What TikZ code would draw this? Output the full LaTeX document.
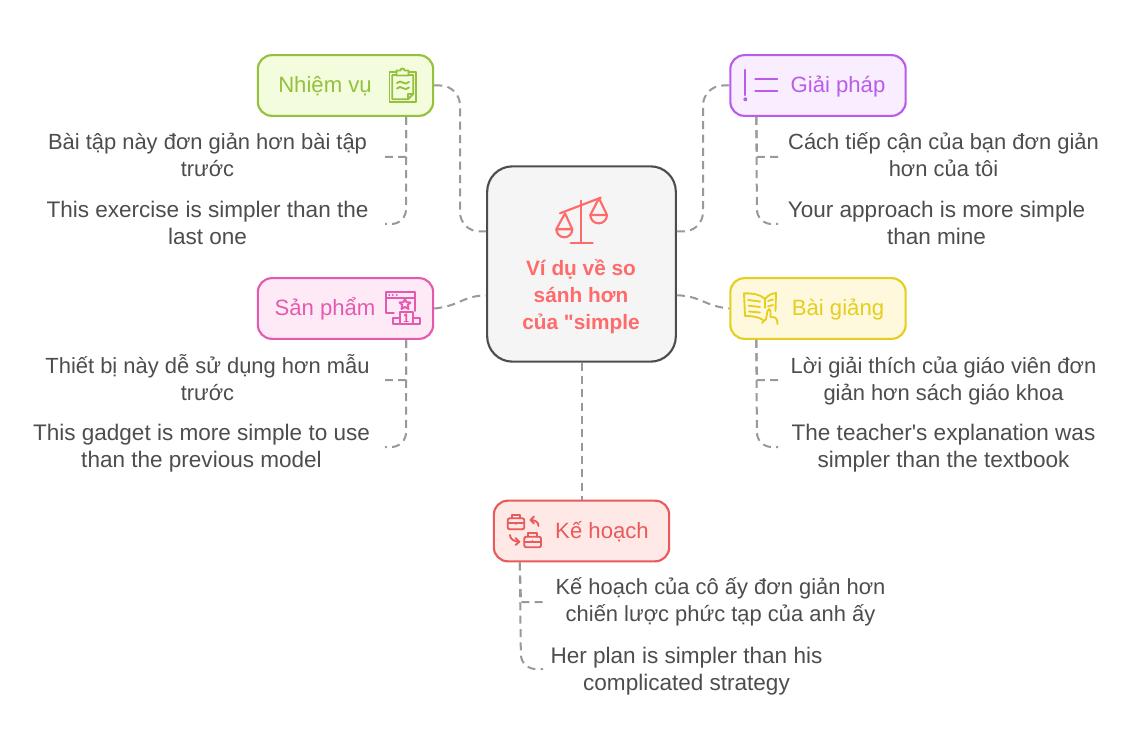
\documentclass[tikz,border=0pt]{standalone}
\usepackage{fontspec}
\newfontfamily\plainfont{Liberation Sans}
\usetikzlibrary{calc}
\definecolor{txt}{HTML}{4D4D4D}
\definecolor{cn}{HTML}{999999}
\definecolor{gs}{HTML}{93C13D}\definecolor{gf}{HTML}{F3FCDC}
\definecolor{ps}{HTML}{BB5CE8}\definecolor{pf}{HTML}{F9EEFF}
\definecolor{ms}{HTML}{E45AAE}\definecolor{mf}{HTML}{FEEAF6}
\definecolor{ys}{HTML}{E5CE1E}\definecolor{yf}{HTML}{FEF9DC}
\definecolor{rs}{HTML}{EA5A5A}\definecolor{rf}{HTML}{FFE9E7}
\definecolor{cs}{HTML}{FF6B6B}
\tikzset{
  x=0.75pt,y=-0.75pt,
  hub/.style={draw=txt,fill=black!4,line width=1.6pt,rounded corners=19pt,minimum width=141.5pt,minimum height=146.5pt,inner sep=0pt},
  topic/.style={line width=1.6pt,rounded corners=10.5pt,minimum width=131.5pt,minimum height=45.5pt,inner sep=0pt,text height=15pt,text depth=4pt,font=\plainfont\fontsize{16.6}{20.25}\selectfont},
  leaf/.style={align=center,anchor=base,text=txt,inner sep=0pt,font=\plainfont\fontsize{16.45}{20.25}\selectfont},
  leafen/.style={leaf,font=\plainfont\fontsize{16.9}{20.25}\selectfont},
  hubtitle/.style={align=center,anchor=base,text=cs,inner sep=0pt,font=\plainfont\fontsize{15.6}{20.25}\selectfont\bfseries},
  linkline/.style={draw=cn,line width=1.5pt,dash pattern=on 6pt off 4pt},
  bendline/.style={linkline,rounded corners=15pt},
  softline/.style={linkline,rounded corners=11pt},
  ico/.style={line width=1.4pt,line join=round,line cap=round},
}
\begin{document}
\begin{tikzpicture}
\useasboundingbox (0,0) rectangle (1137,752);
\fill[white] (0,0) rectangle (1137,752);

% nodes
\node[hub] (c) at (581.5,264) {};
\node[hubtitle] (ct) at (581,329) {Ví dụ về so\\sánh hơn\\của "simple};
\node[topic,draw=gs,fill=gf,text=gs] (nv) at (345.5,85.5) {Nhiệm vụ\hspace*{30.75pt}};
\node[topic,draw=ps,fill=pf,text=ps] (gp) at (818,85.5) {\hspace*{30pt}Giải pháp};
\node[topic,draw=ms,fill=mf,text=ms] (sp) at (345.5,308.5) {Sản phẩm\hspace*{30.75pt}};
\node[topic,draw=ys,fill=yf,text=ys] (bg) at (818,308.5) {\hspace*{30pt}Bài giảng};
\node[topic,draw=rs,fill=rf,text=rs] (kh) at (581.5,531) {\hspace*{30.75pt}Kế hoạch};

\node[leaf] (nv1) at (207.5,177) {Bài tập này đơn giản hơn bài tập\\trước};
\node[leafen] (nv2) at (207.5,244) {This exercise is simpler than the\\last one};
\node[leaf] (gp1) at (943.5,177) {Cách tiếp cận của bạn đơn giản\\hơn của tôi};
\node[leafen] (gp2) at (936.5,244) {Your approach is more simple\\than mine};
\node[leaf] (sp1) at (207.5,400) {Thiết bị này dễ sử dụng hơn mẫu\\trước};
\node[leafen] (sp2) at (201.5,467) {This gadget is more simple to use\\than the previous model};
\node[leaf] (bg1) at (943.5,400) {Lời giải thích của giáo viên đơn\\giản hơn sách giáo khoa};
\node[leafen] (bg2) at (943.5,467) {The teacher's explanation was\\simpler than the textbook};
\node[leaf] (kh1) at (720.5,621) {Kế hoạch của cô ấy đơn giản hơn\\chiến lược phức tạp của anh ấy};
\node[leafen] (kh2) at (686.5,690) {Her plan is simpler than his\\complicated strategy};

% free ends of connectors
\coordinate (cw1) at ($(c.north west)+(0,66)$);
\coordinate (cw2) at ($(c.north west)+(0,130)$);
\coordinate (ce1) at ($(c.north east)+(0,66)$);
\coordinate (ce2) at ($(c.north east)+(0,130)$);
\coordinate (nvs) at ($(nv.south east)+(-28,0)$);
\coordinate (sps) at ($(sp.south east)+(-28,0)$);
\coordinate (gps) at ($(gp.south west)+(27,0)$);
\coordinate (bgs) at ($(bg.south west)+(27,0)$);
\coordinate (khs) at ($(kh.south west)+(27,0)$);

% hub connectors
\draw[bendline] (nv.east) -- (460,85.5) -- (460,232) -- (cw1);
\draw[bendline] (gp.west) -- (703,85.5) -- (703,232) -- (ce1);
\draw[linkline] (sp.east) .. controls (460,306) and (462,296) .. (cw2);
\draw[linkline] (ce2) .. controls (701,296) and (704,306) .. (bg.west);
\draw[linkline] (c.south) -- (kh.north);

% leaf connectors
\coordinate (a1) at (385,157);\coordinate (a2) at (385,224);
\draw[linkline] (nvs) -- (406,157) -- (a1);
\draw[softline] (nvs) -- (406,224) -- (a2);
\coordinate (b1) at (778,157);\coordinate (b2) at (778,224);
\draw[linkline] (gps) -- (757,157) -- (b1);
\draw[softline] (gps) -- (757,224) -- (b2);
\coordinate (d1) at (385,380);\coordinate (d2) at (385,447);
\draw[linkline] (sps) -- (406,380) -- (d1);
\draw[softline] (sps) -- (406,447) -- (d2);
\coordinate (e1) at (778,380);\coordinate (e2) at (778,447);
\draw[linkline] (bgs) -- (757,380) -- (e1);
\draw[softline] (bgs) -- (757,447) -- (e2);
\coordinate (f1) at (543,602);\coordinate (f2) at (543,669);
\draw[linkline] (khs) -- (521,602) -- (f1);
\draw[softline] (khs) -- (521,669) -- (f2);

% scales icon
\begin{scope}[ico,draw=cs,line width=1.6pt]
\draw (560,213.3) -- (600.7,197.7);
\draw (581,200.7) -- (581,242.7);
\draw (570.7,242.7) -- (592.7,242.7);
\draw (556.3,229.3) -- (565,213.3) -- (572.3,229.3);
\draw (556.3,229.3) -- (572.3,229.3) arc[start angle=0,end angle=180,radius=8];
\draw (590.3,215) -- (599,198.3) -- (607,215);
\draw (590.3,215) -- (607,215) arc[start angle=0,end angle=180,radius=8.35];
\end{scope}

% clipboard icon
\begin{scope}[ico,draw=gs]
\draw (396.5,72) -- (389.5,72) -- (389.5,102.3) -- (416,102.3) -- (416,72) -- (408.5,72);
\draw (396.5,75) -- (392.3,75) -- (392.3,99.3) -- (408,99.3) -- (413.3,94) -- (413.3,75) -- (408.5,75);
\draw (408,99.3) -- (408,94) -- (413.3,94);
\draw (396.5,75.5) -- (396.5,70.5) -- (400.5,70.5) arc[start angle=180,end angle=360,radius=2] -- (408.5,70.5) -- (408.5,75.5) -- cycle;
\foreach \yy in {83,88.5}{
\draw (397,\yy) .. controls (399,\yy-2) and (401,\yy-2) .. (403,\yy-0.3) .. controls (405,\yy+1) and (407,\yy+1) .. (409,\yy-1);}
\end{scope}

% exclamation and lines icon
\begin{scope}[ico,draw=ps,line width=1.6pt]
\draw (745.3,70) -- (745.3,95);
\fill[ps] (745.3,99.3) circle[radius=2];
\draw (755.3,79.3) -- (777.3,79.3);
\draw (755.3,90.7) -- (777.3,90.7);
\end{scope}

% product icon
\begin{scope}[ico,draw=ms]
\draw (394,313) -- (386,313) -- (386,291.7) -- (415,291.7) -- (415,311);
\draw (386,298.3) -- (415,298.3);
\foreach \xx in {389.3,392.7,396.7}{\fill[ms] (\xx,295) circle[radius=1.1];}
\draw (405,299) -- (406.6,302.2) -- (410.5,302.5) -- (407.6,305.1) -- (408.5,309) -- (405,307) -- (401.5,309) -- (402.4,305.1) -- (399.5,302.5) -- (403.4,302.2) -- cycle;
\draw (393.3,324.3) -- (393.3,318.3) -- (420,318.3) -- (420,324.3) -- cycle;
\filldraw[fill=mf,draw=ms] (400,324.3) -- (400,311.7) -- (412.7,311.7) -- (412.7,324.3) -- cycle;
\draw (404.7,315.3) -- (406.3,314.3) -- (406.3,321.5);
\draw (404.5,321.5) -- (408,321.5);
\end{scope}

% book icon
\begin{scope}[ico,draw=ys]
\draw (765,299) .. controls (760,294) and (752,293.3) .. (744,293.3) -- (745,316) .. controls (753,316) and (759,317) .. (763,320);
\draw (765,299) .. controls (768,295) and (772,293.5) .. (776,293) -- (775.5,311);
\draw (765,299) -- (765,308);
\draw (748,300) -- (760,301.5);
\draw (748.5,305.7) -- (760,307);
\draw (749,311.5) -- (760,312.5);
\draw (768,301) -- (773,299.5);
\draw (768,306.5) -- (773,305);
\draw (762,323) -- (766,319) -- (767.5,311) .. controls (768,308.5) and (770.5,308.5) .. (770.5,311) -- (770.5,317) -- (775,317.5) .. controls (777,318) and (777.5,321) .. (777.5,324);
\end{scope}

% briefcases icon
\begin{scope}[ico,draw=rs]
\draw[rounded corners=1.5pt] (507.7,518.3) rectangle (524.3,529.3);
\draw (511.7,518.3) -- (511.7,515) -- (520,515) -- (520,518.3);
\draw (507.7,523.3) -- (524.3,523.3);
\fill[rs] (516,523.3) circle[radius=1.5];
\draw[rounded corners=1.5pt] (524.3,536.7) rectangle (541,547.3);
\draw (528.3,536.7) -- (528.3,533.3) -- (536.7,533.3) -- (536.7,536.7);
\draw (524.3,541.7) -- (541,541.7);
\fill[rs] (532.5,541.7) circle[radius=1.5];
\draw (538.5,526) .. controls (538.5,522) and (535,520) .. (530.5,520);
\draw (534,516.5) -- (530.5,520) -- (534,523.5);
\draw (510,535) .. controls (510,539) and (514,541.7) .. (519.3,541.7);
\draw (515.5,538) -- (519.3,541.7) -- (515.5,545);
\end{scope}
\end{tikzpicture}
\end{document}
